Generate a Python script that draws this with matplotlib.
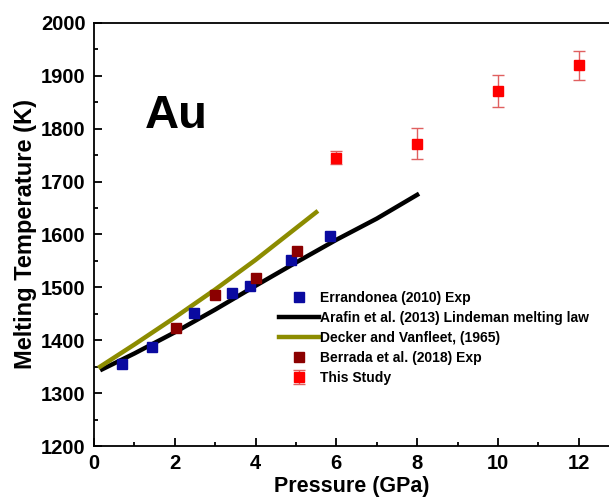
import numpy as np
from matplotlib import pyplot as plt

plt.rcParams['font.family'] = ['Liberation Sans', 'DejaVu Sans']
plt.rcParams['font.weight'] = 'bold'

# Errandonea (2010) Exp
err_p = [0.69, 1.44, 2.48, 3.41, 3.86, 4.88, 5.84]
err_t = [1355, 1388, 1451, 1490, 1502, 1552, 1597]

# Berrada et al. (2018) Exp
ber_p = [2.03, 3.0, 4.0, 5.02]
ber_t = [1424, 1485, 1518, 1569]

# Arafin et al. (2013) Lindeman
ara_p = [0.2, 1, 2, 3, 4, 5, 6, 7, 8]
ara_t = [1345, 1375, 1415, 1458, 1503, 1547, 1590, 1630, 1675]

# Decker and Vanfleet (1965)
dec_p = [0.15, 1, 2, 3, 4, 5, 5.5]
dec_t = [1350, 1392, 1443, 1496, 1552, 1612, 1642]

# This Study
ts_p = [6, 8, 10, 12]
ts_t = [1745, 1772, 1872, 1920]
ts_err = [12, 30, 30, 27]

fig = plt.figure(figsize=(6.09, 4.99), dpi=100)
ax = fig.add_axes([0.1544, 0.1062, 0.8456, 0.8478])

ax.plot(err_p, err_t, 's', color='#0a0aa0', ms=7, label='Errandonea (2010) Exp', zorder=4)
ax.plot(ara_p, ara_t, '-', color='black', lw=3.2, label='Arafin et al. (2013) Lindeman melting law', zorder=2)
ax.plot(dec_p, dec_t, '-', color='#8c8c00', lw=3.2, label='Decker and Vanfleet, (1965)', zorder=2)
ax.plot(ber_p, ber_t, 's', color='#8b0000', ms=7, label='Berrada et al. (2018) Exp', zorder=4)
ax.errorbar(ts_p, ts_t, yerr=ts_err, fmt='s', color='red', ms=7, ecolor='#e06060',
            elinewidth=1, capsize=4, capthick=1, label='This Study', zorder=5)

ax.set_xlim(0, 12.75)
ax.set_ylim(1200, 2000)
ax.set_xticks([0, 2, 4, 6, 8, 10, 12])
ax.set_xticks(np.arange(1, 13, 2), minor=True)
ax.set_yticks(np.arange(1200, 2001, 100))
ax.set_yticks(np.arange(1250, 2000, 100), minor=True)
ax.tick_params(direction='in', which='major', length=6, width=1.3, labelsize=14.5, pad=6)
ax.tick_params(direction='in', which='minor', length=3, width=1.3)
ax.spines['right'].set_visible(False)
for s in ['left', 'bottom', 'top']:
    ax.spines[s].set_linewidth(1.3)
for lab in ax.get_xticklabels() + ax.get_yticklabels():
    lab.set_fontweight('bold')

ax.set_xlabel('Pressure (GPa)', fontsize=15.5, fontweight='bold', labelpad=2)
ax.set_ylabel('Melting Temperature (K)', fontsize=17, fontweight='bold', labelpad=3)

ax.text(1.25, 1802, 'Au', fontsize=34, fontweight='bold')

leg = ax.legend(loc='upper left', bbox_to_anchor=(0.345, 0.382), frameon=False,
                fontsize=10, handlelength=2.9, handletextpad=0.05,
                labelspacing=0.42, borderpad=0)
for t in leg.get_texts():
    t.set_fontweight('bold')

fig.savefig('out.png', dpi=100)
